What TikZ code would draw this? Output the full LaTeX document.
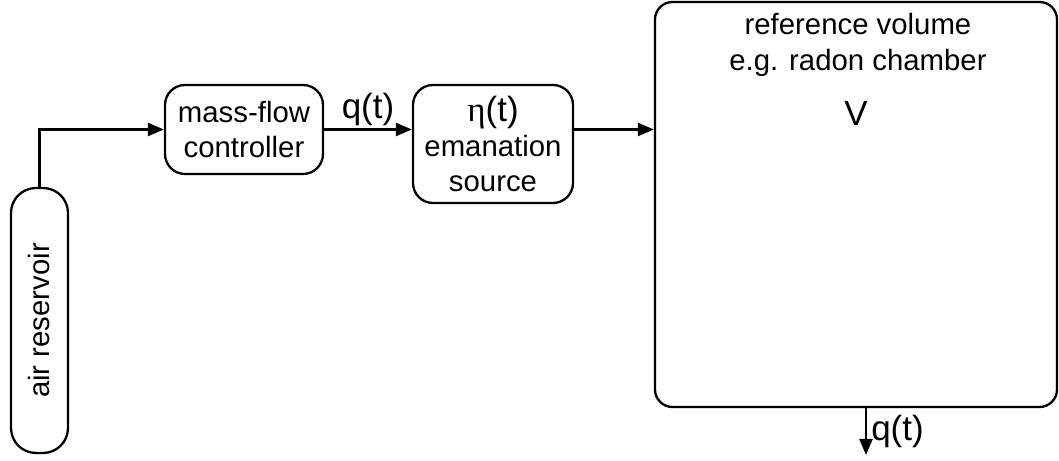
\documentclass[tikz,border=0pt]{standalone}
\usepackage{fontspec}
\setmainfont{Liberation Sans}
\newfontfamily\greekfont{Liberation Serif}
\usetikzlibrary{arrows.meta}

\begin{document}
\begin{tikzpicture}[
    box/.style={rectangle, rounded corners=0.4cm, draw, line width=1.3pt, align=center, inner sep=0pt, font=\fontsize{16.7}{19.9}\selectfont},
    label_text/.style={align=center, font=\fontsize{16.7}{20.5}\selectfont},
    big/.style={font=\fontsize{19.9}{22}\selectfont},
    flow/.style={-{Triangle[length=0.32cm,width=0.26cm]}, line width=1.3pt}
]
    \useasboundingbox (0,0) rectangle (21.18,9.22);
        \node[box, rotate=90, minimum width=5.3cm, minimum height=1.14cm, rounded corners=0.5cm] (res) at (0.79,2.81) {air reservoir};
        \node[box, minimum width=3.16cm, minimum height=1.78cm] (mfc) at (4.88,6.63) {mass-flow\\controller};
        \node[box, minimum width=3.2cm, minimum height=2.36cm] (src) at (9.86,6.34) {{\fontsize{19.9}{22}\selectfont{\greekfont η}(t)}\\emanation\\source};
        \node[box, minimum width=8.04cm, minimum height=8.1cm, rounded corners=0.35cm] (vol) at (17.12,5.13) {};
        \node[label_text] (volText) at (17.16,8.32) {reference volume\\e.g. radon chamber};
        \node[big] (V) at (17.12,6.96) {V};
        \coordinate (out) at (17.32,0.12);
    \draw [flow] (res) |- (mfc);
    \draw [flow] (mfc.east) -- (mfc.east -| src.west) node[midway, above=-2pt, big] (qin) {q(t)};
    \draw [flow] (src.east |- mfc.east) -- (vol.west |- mfc.east);
    \draw [flow] (vol.south -| out) -- (out) node[midway, right=-1pt, big] (qout) {q(t)};

    \end{tikzpicture}
\end{document}
